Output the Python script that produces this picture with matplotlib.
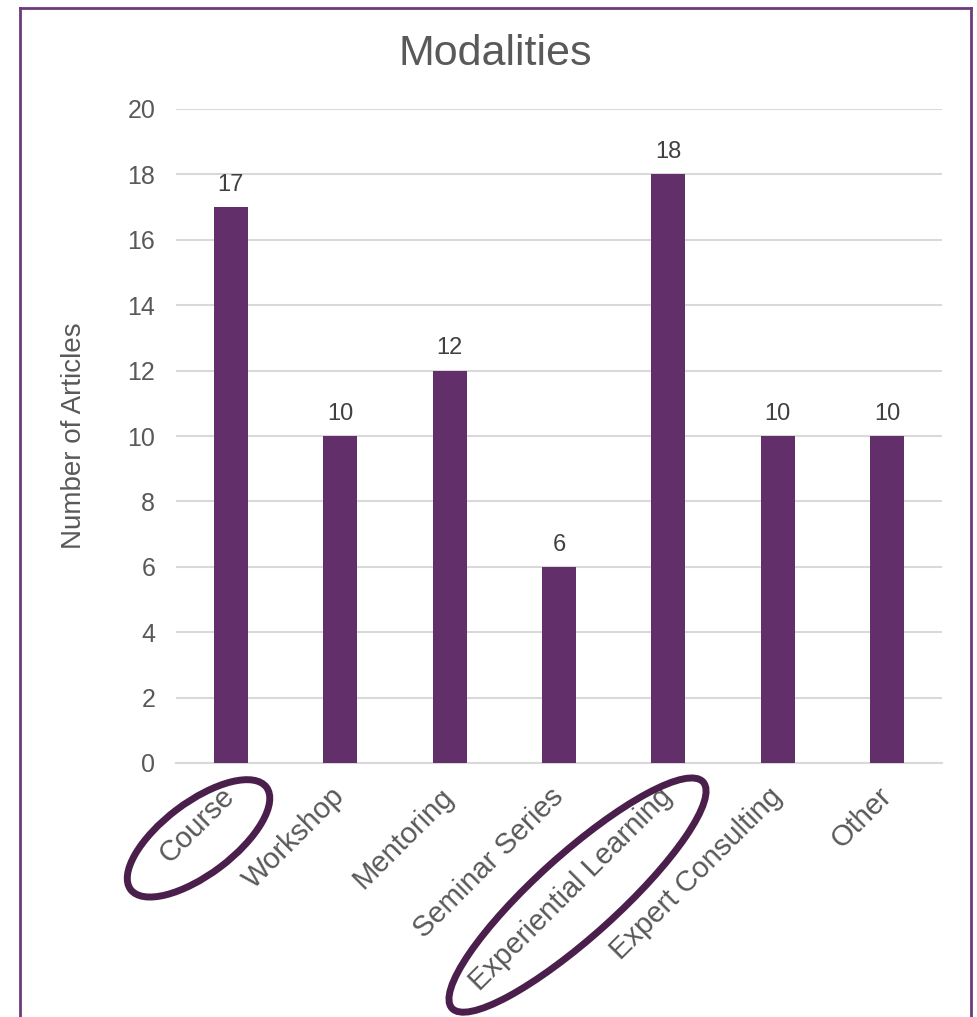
import matplotlib
matplotlib.use("Agg")
import matplotlib.pyplot as plt
from matplotlib.patches import Ellipse
from matplotlib.lines import Line2D

plt.rcParams['font.family'] = ['Liberation Sans', 'DejaVu Sans']

# Data
categories = ["Course", "Workshop", "Mentoring", "Seminar Series",
              "Experiential Learning", "Expert Consulting", "Other"]
articles = [17, 10, 12, 6, 18, 10, 10]
y_ticks = [0, 2, 4, 6, 8, 10, 12, 14, 16, 18, 20]
circled = ["Course", "Experiential Learning"]

bar_color = "#622f6b"
ring_color = "#4a1f4c"
text_gray = "#595959"
grid_gray = "#d9d9d9"

W, H = 977, 1017
fig = plt.figure(figsize=(W / 100, H / 100), dpi=100)
ax = fig.add_axes([176 / W, 1 - 763 / H, (942 - 176) / W, (763 - 109) / H])

x = range(len(categories))
bars = ax.bar(x, articles, width=0.31, color=bar_color, zorder=3)
ax.bar_label(bars, padding=8, fontsize=17, color="#404040")

ax.set_xlim(-0.5, len(categories) - 0.5)
ax.set_ylim(0, 20)
ax.set_yticks(y_ticks)
ax.yaxis.grid(True, color=grid_gray, linewidth=1.5, zorder=0)
for s in ["top", "right", "left"]:
    ax.spines[s].set_visible(False)
ax.spines["bottom"].set_color(grid_gray)
ax.spines["bottom"].set_linewidth(1.5)
ax.tick_params(axis="y", length=0, labelsize=18, labelcolor=text_gray, pad=15)
ax.tick_params(axis="x", length=0, labelsize=21, labelcolor=text_gray, pad=21)
ax.set_xticks(list(x))
ax.set_xticklabels(categories, rotation=45, ha="right", va="center",
                   rotation_mode="anchor")
ax.set_ylabel("Number of Articles", fontsize=20, color=text_gray, labelpad=29)

fig.text(495 / W, 1 - 54 / H, "Modalities", fontsize=31, color=text_gray,
         ha="center", va="center")

# purple frame around the chart (bottom edge is off the picture)
frame = dict(color="#6d3a7b", linewidth=2, transform=fig.transFigure)
fig.add_artist(Line2D([20 / W, 20 / W], [0, 1 - 8 / H], **frame))
fig.add_artist(Line2D([20 / W, 971 / W], [1 - 8 / H, 1 - 8 / H], **frame))
fig.add_artist(Line2D([971 / W, 971 / W], [0, 1 - 8 / H], **frame))

# rings drawn around two of the labels
fig.canvas.draw()
rings = {"Course": (170, 72, 37, 1, -13),
         "Experiential Learning": (338, 82, 42, 6, -6)}
for lab in ax.get_xticklabels():
    name = lab.get_text()
    if name in circled:
        bb = lab.get_window_extent()
        w, h, ang, dx, dy = rings[name]
        cx = (bb.x0 + bb.x1) / 2 + dx
        cy = (bb.y0 + bb.y1) / 2 + dy
        e = Ellipse((cx, cy), w, h, angle=ang, fill=False,
                    edgecolor=ring_color, linewidth=5, transform=None)
        fig.add_artist(e)

fig.savefig("out.png", dpi=100)
